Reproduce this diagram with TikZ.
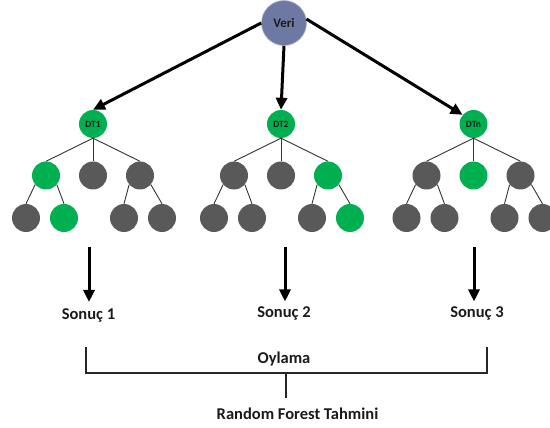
\documentclass[tikz,border=0pt]{standalone}
\usepackage{fontspec}
\setmainfont{Carlito}
\usetikzlibrary{arrows.meta}
\definecolor{leafgreen}{HTML}{00B050}
\definecolor{leafgray}{HTML}{595959}
\definecolor{rootblue}{HTML}{6E79A3}
\definecolor{inkdark}{HTML}{1A1A1A}

\begin{document}
\begin{tikzpicture}[x=1pt,y=-1pt,
  nd/.style={circle, minimum size=28pt, inner sep=0pt},
  branch/.style={draw=black!80, line width=0.9pt},
  bigarrow/.style={draw=black, line width=3pt, -{Triangle[length=12pt,width=11pt]}},
  lbl/.style={font=\fontsize{16.5}{20}\selectfont\bfseries, text=inkdark, inner sep=0pt, anchor=base},
  bracketline/.style={draw=black!85, line width=1.7pt},
]
\useasboundingbox (0,0) rectangle (550,428);

% data node
\node[circle, minimum size=45pt, inner sep=0pt, fill=rootblue, draw=rootblue!55!white, line width=0.6pt,
      font=\fontsize{13}{15}\selectfont\bfseries, text=inkdark] (veri) at (284,23) {Veri};

% three decision trees
\foreach \t/\x/\lab/\ca/\cb/\cc/\caa/\cab/\cca/\ccb in {
    1/93/DT1/leafgreen/leafgray/leafgray/leafgray/leafgreen/leafgray/leafgray,
    2/281/DT2/leafgray/leafgray/leafgreen/leafgray/leafgray/leafgray/leafgreen,
    3/473.5/DTn/leafgray/leafgreen/leafgray/leafgray/leafgray/leafgray/leafgray} {
  \node[nd, fill=leafgreen, font=\fontsize{9.5}{11}\selectfont\bfseries, text=inkdark] (t\t) at (\x,124) {\lab};
  \node[nd, fill=\ca] (t\t-a) at (\x-47,175.5) {};
  \node[nd, fill=\cb] (t\t-b) at (\x,175.5) {};
  \node[nd, fill=\cc] (t\t-c) at (\x+47,175.5) {};
  \node[nd, fill=\caa] (t\t-aa) at (\x-67,218) {};
  \node[nd, fill=\cab] (t\t-ab) at (\x-29,218) {};
  \node[nd, fill=\cca] (t\t-ca) at (\x+31,218) {};
  \node[nd, fill=\ccb] (t\t-cb) at (\x+69,218) {};
  \draw[branch] (t\t.south) -- (t\t-a.north);
  \draw[branch] (t\t.south) -- (t\t-b.north);
  \draw[branch] (t\t.south) -- (t\t-c.north);
  \draw[branch] (t\t-a.220) -- (t\t-aa.north);
  \draw[branch] (t\t-a.320) -- (t\t-ab.north);
  \draw[branch] (t\t-c.220) -- (t\t-ca.north);
  \draw[branch] (t\t-c.320) -- (t\t-cb.north);
}

% data to trees
\draw[bigarrow] (veri.west) -- (t1.north);
\draw[bigarrow] (veri.south) -- (t2.north);
\draw[bigarrow] (veri.10) -- (t3.140);

% results
\node[lbl] (s1) at (88.5,319) {Sonuç 1};
\node[lbl] (s2) at (284,317.5) {Sonuç 2};
\node[lbl] (s3) at (477,317.5) {Sonuç 3};
\coordinate (a1) at (89,247);
\coordinate (a2) at (285,247);
\coordinate (a3) at (474,247);
\draw[bigarrow, shorten >=6pt] (a1) -- (a1 |- s1.north);
\draw[bigarrow, shorten >=5pt] (a2) -- (a2 |- s2.north);
\draw[bigarrow, shorten >=5pt] (a3) -- (a3 |- s3.north);

% voting bracket
\node[lbl] (vote) at (284,363) {Oylama};
\coordinate (bl) at (86,347);
\coordinate (br) at (487,347);
\coordinate (bm) at (286,373);
\draw[bracketline] (bl) -- (bl |- bm) -- (br |- bm) -- (br);
\node[lbl] (rf) at (297.5,419) {Random Forest Tahmini};
\draw[bracketline, shorten >=9pt] (bm) -- (bm |- rf.north);
\end{tikzpicture}
\end{document}
